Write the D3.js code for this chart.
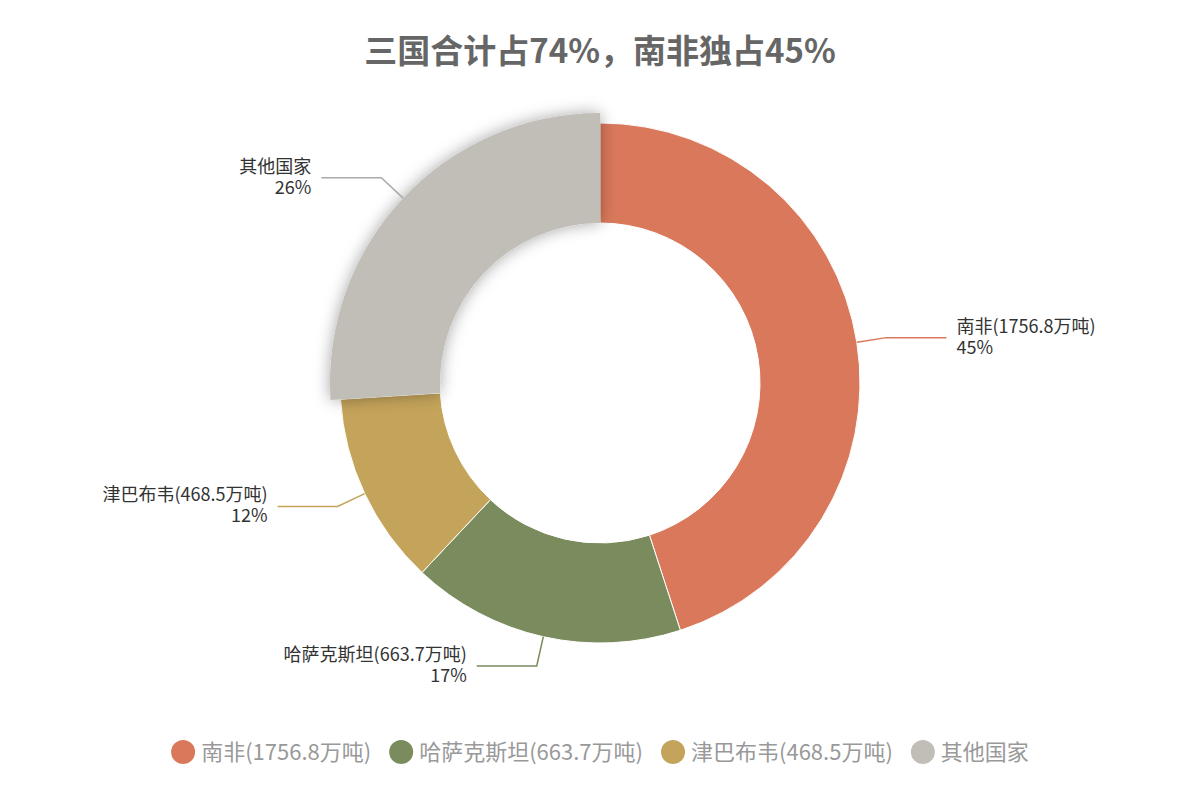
<!DOCTYPE html><html><head><meta charset="utf-8"><script src="https://cdn.jsdelivr.net/npm/d3@7/dist/d3.min.js"></script>
<style>body{margin:0;background:#fff}</style></head><body><svg id="c" width="1200" height="800"></svg>
<script>
const categories=["南非(1756.8万吨)","哈萨克斯坦(663.7万吨)","津巴布韦(468.5万吨)","其他国家"];
const values=[1756.8,663.7,468.5,1015];
const pctLabels=["45%","17%","12%","26%"];
const colors=["#d9785a","#7a8c5e","#c4a35a","#c0beb6"];
const svg=d3.select("#c");
const F="'Noto Sans CJK SC','Noto Sans',sans-serif";
svg.append("text").attr("x",600).attr("y",63).attr("text-anchor","middle").attr("font-family",F).attr("font-weight","bold").attr("font-size",33).attr("fill","#666").text("三国合计占74%，南非独占45%");
const defs=svg.append("defs");
const f=defs.append("filter").attr("id","sh").attr("x","-30%").attr("y","-30%").attr("width","160%").attr("height","160%");
f.append("feDropShadow").attr("dx",0).attr("dy",0).attr("stdDeviation",8).attr("flood-color","#000").attr("flood-opacity",0.35);
const cx=600,cy=383,R=260,r=160;
const pie=d3.pie().sort(null)(values);
const g=svg.append("g").attr("transform",`translate(${cx},${cy})`);
pie.forEach((d,i)=>{
  const big=i===3;
  const arc=d3.arc().innerRadius(r).outerRadius(big?270:R);
  g.append("path").attr("d",arc(d)).attr("fill",colors[i]).attr("stroke","#fff").attr("stroke-width",big?0:1).attr("filter",big?"url(#sh)":null);
});
pie.forEach((d,i)=>{
  const m=(d.startAngle+d.endAngle)/2, rr=(i===3?270:R);
  const x0=Math.sin(m)*rr,y0=-Math.cos(m)*rr;
  const x1=Math.sin(m)*(rr+30),y1=-Math.cos(m)*(rr+30);
  const right=Math.sin(m)>0;
  const x2=x1+(right?60:-60);
  g.append("polyline").attr("points",`${x0},${y0} ${x1},${y1} ${x2},${y1}`).attr("fill","none").attr("stroke",i===3?"#aaa":colors[i]).attr("stroke-width",1.5);
  const tx=x2+(right?10:-10);
  [categories[i],pctLabels[i]].forEach((s,k)=>{
    g.append("text").attr("font-family",F).attr("font-size",18).attr("fill","#333").attr("text-anchor",right?"start":"end")
     .attr("x",tx).attr("y",y1-5+k*21).text(s);
  });
});
const lg=svg.append("g");
const LF=22;
let widths=categories.map(c=>{const t=svg.append("text").attr("font-family",F).attr("font-size",LF).text(c);const w=t.node().getComputedTextLength();t.remove();return w;});
const gap=18,item=w=>24+6+w;
let total=widths.reduce((a,w)=>a+item(w),0)+gap*3;
let x=600-total/2;
categories.forEach((c,i)=>{
  lg.append("circle").attr("cx",x+12).attr("cy",752).attr("r",12).attr("fill",colors[i]);
  lg.append("text").attr("x",x+30).attr("y",760).attr("font-family",F).attr("font-size",LF).attr("fill","#999").text(c);
  x+=item(widths[i])+gap;
});
</script></body></html>
